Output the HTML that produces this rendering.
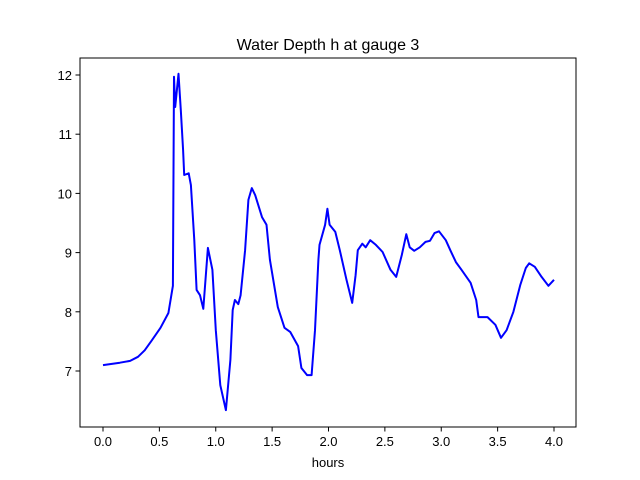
<!DOCTYPE html>
<html><head><meta charset="utf-8"><style>
body{margin:0;background:#fff;}
svg{display:block;font-family:"Liberation Sans","DejaVu Sans",sans-serif;}
</style></head><body>
<svg id="chart" width="640" height="480">
<rect x="0" y="0" width="640" height="480" fill="#fff"/>
<text x="328" y="50" text-anchor="middle" font-size="16">Water Depth h at gauge 3</text>
<g id="ticks"></g>
<path id="series" fill="none" stroke="#0000ff" stroke-width="2" stroke-linejoin="round"/>
<rect x="80" y="58" width="496" height="369" fill="none" stroke="#000" stroke-width="1"/>
<text x="328" y="467" text-anchor="middle" font-size="13">hours</text>
</svg>
<script>
const hours = [0,.15,.24,.31,.37,.43,.51,.58,.62,.63,.64,.67,.69,.71,.72,.76,.78,.81,.83,.86,.89,.93,.97,1.00,1.04,1.09,1.13,1.15,1.17,1.20,1.22,1.26,1.29,1.32,1.35,1.41,1.45,1.48,1.55,1.61,1.66,1.73,1.76,1.81,1.85,1.88,1.91,1.92,1.97,1.99,2.01,2.06,2.10,2.16,2.21,2.24,2.26,2.30,2.33,2.37,2.42,2.48,2.55,2.60,2.65,2.69,2.72,2.76,2.81,2.86,2.90,2.94,2.98,3.04,3.08,3.13,3.18,3.26,3.31,3.33,3.41,3.48,3.53,3.58,3.64,3.70,3.75,3.78,3.83,3.89,3.95,4.00];
const depth = [7.10,7.14,7.17,7.24,7.35,7.51,7.73,7.98,8.44,11.97,11.46,12.02,11.41,10.73,10.31,10.34,10.14,9.21,8.37,8.28,8.05,9.08,8.71,7.69,6.76,6.34,7.19,8.03,8.20,8.13,8.28,9.04,9.89,10.09,9.97,9.60,9.47,8.88,8.08,7.73,7.66,7.42,7.05,6.93,6.93,7.69,8.88,9.13,9.47,9.74,9.47,9.35,9.04,8.54,8.15,8.62,9.04,9.15,9.09,9.21,9.13,9.01,8.71,8.59,8.96,9.31,9.09,9.03,9.09,9.18,9.20,9.33,9.36,9.21,9.04,8.84,8.71,8.49,8.20,7.91,7.91,7.78,7.56,7.69,8.00,8.45,8.74,8.82,8.76,8.59,8.44,8.54];
const xTicks = [0,0.5,1,1.5,2,2.5,3,3.5,4];
const xTickLabels = ["0.0","0.5","1.0","1.5","2.0","2.5","3.0","3.5","4.0"];
const yTicks = [7,8,9,10,11,12];
const yTickLabels = ["7","8","9","10","11","12"];

const X = v => 103 + v*112.75;
const Y = v => 371 - (v-7)*59.2;
const NS="http://www.w3.org/2000/svg";
const g=document.getElementById('ticks');
xTicks.forEach((t,i)=>{
  const l=document.createElementNS(NS,'line');
  l.setAttribute('x1',X(t));l.setAttribute('x2',X(t));l.setAttribute('y1',427);l.setAttribute('y2',431.5);l.setAttribute('stroke','#000');
  
  
  g.appendChild(l);
  const tx=document.createElementNS(NS,'text');
  tx.setAttribute('x',X(t));tx.setAttribute('y',446);tx.setAttribute('text-anchor','middle');tx.setAttribute('font-size','13');
  tx.textContent=xTickLabels[i];
  
  
  g.appendChild(tx);
});
yTicks.forEach((t,i)=>{
  const l=document.createElementNS(NS,'line');
  l.setAttribute('x1',75.5);l.setAttribute('x2',80);l.setAttribute('y1',Y(t));l.setAttribute('y2',Y(t));l.setAttribute('stroke','#000');
  
  
  g.appendChild(l);
  const tx=document.createElementNS(NS,'text');
  tx.setAttribute('x',72);tx.setAttribute('y',Y(t)+5);tx.setAttribute('text-anchor','end');tx.setAttribute('font-size','13');
  tx.textContent=yTickLabels[i];
  
  
  g.appendChild(tx);
});
document.getElementById('series').setAttribute('d', hours.map((h,i)=>(i?'L':'M')+X(h).toFixed(1)+','+Y(depth[i]).toFixed(1)).join(''));
</script>
</body></html>
